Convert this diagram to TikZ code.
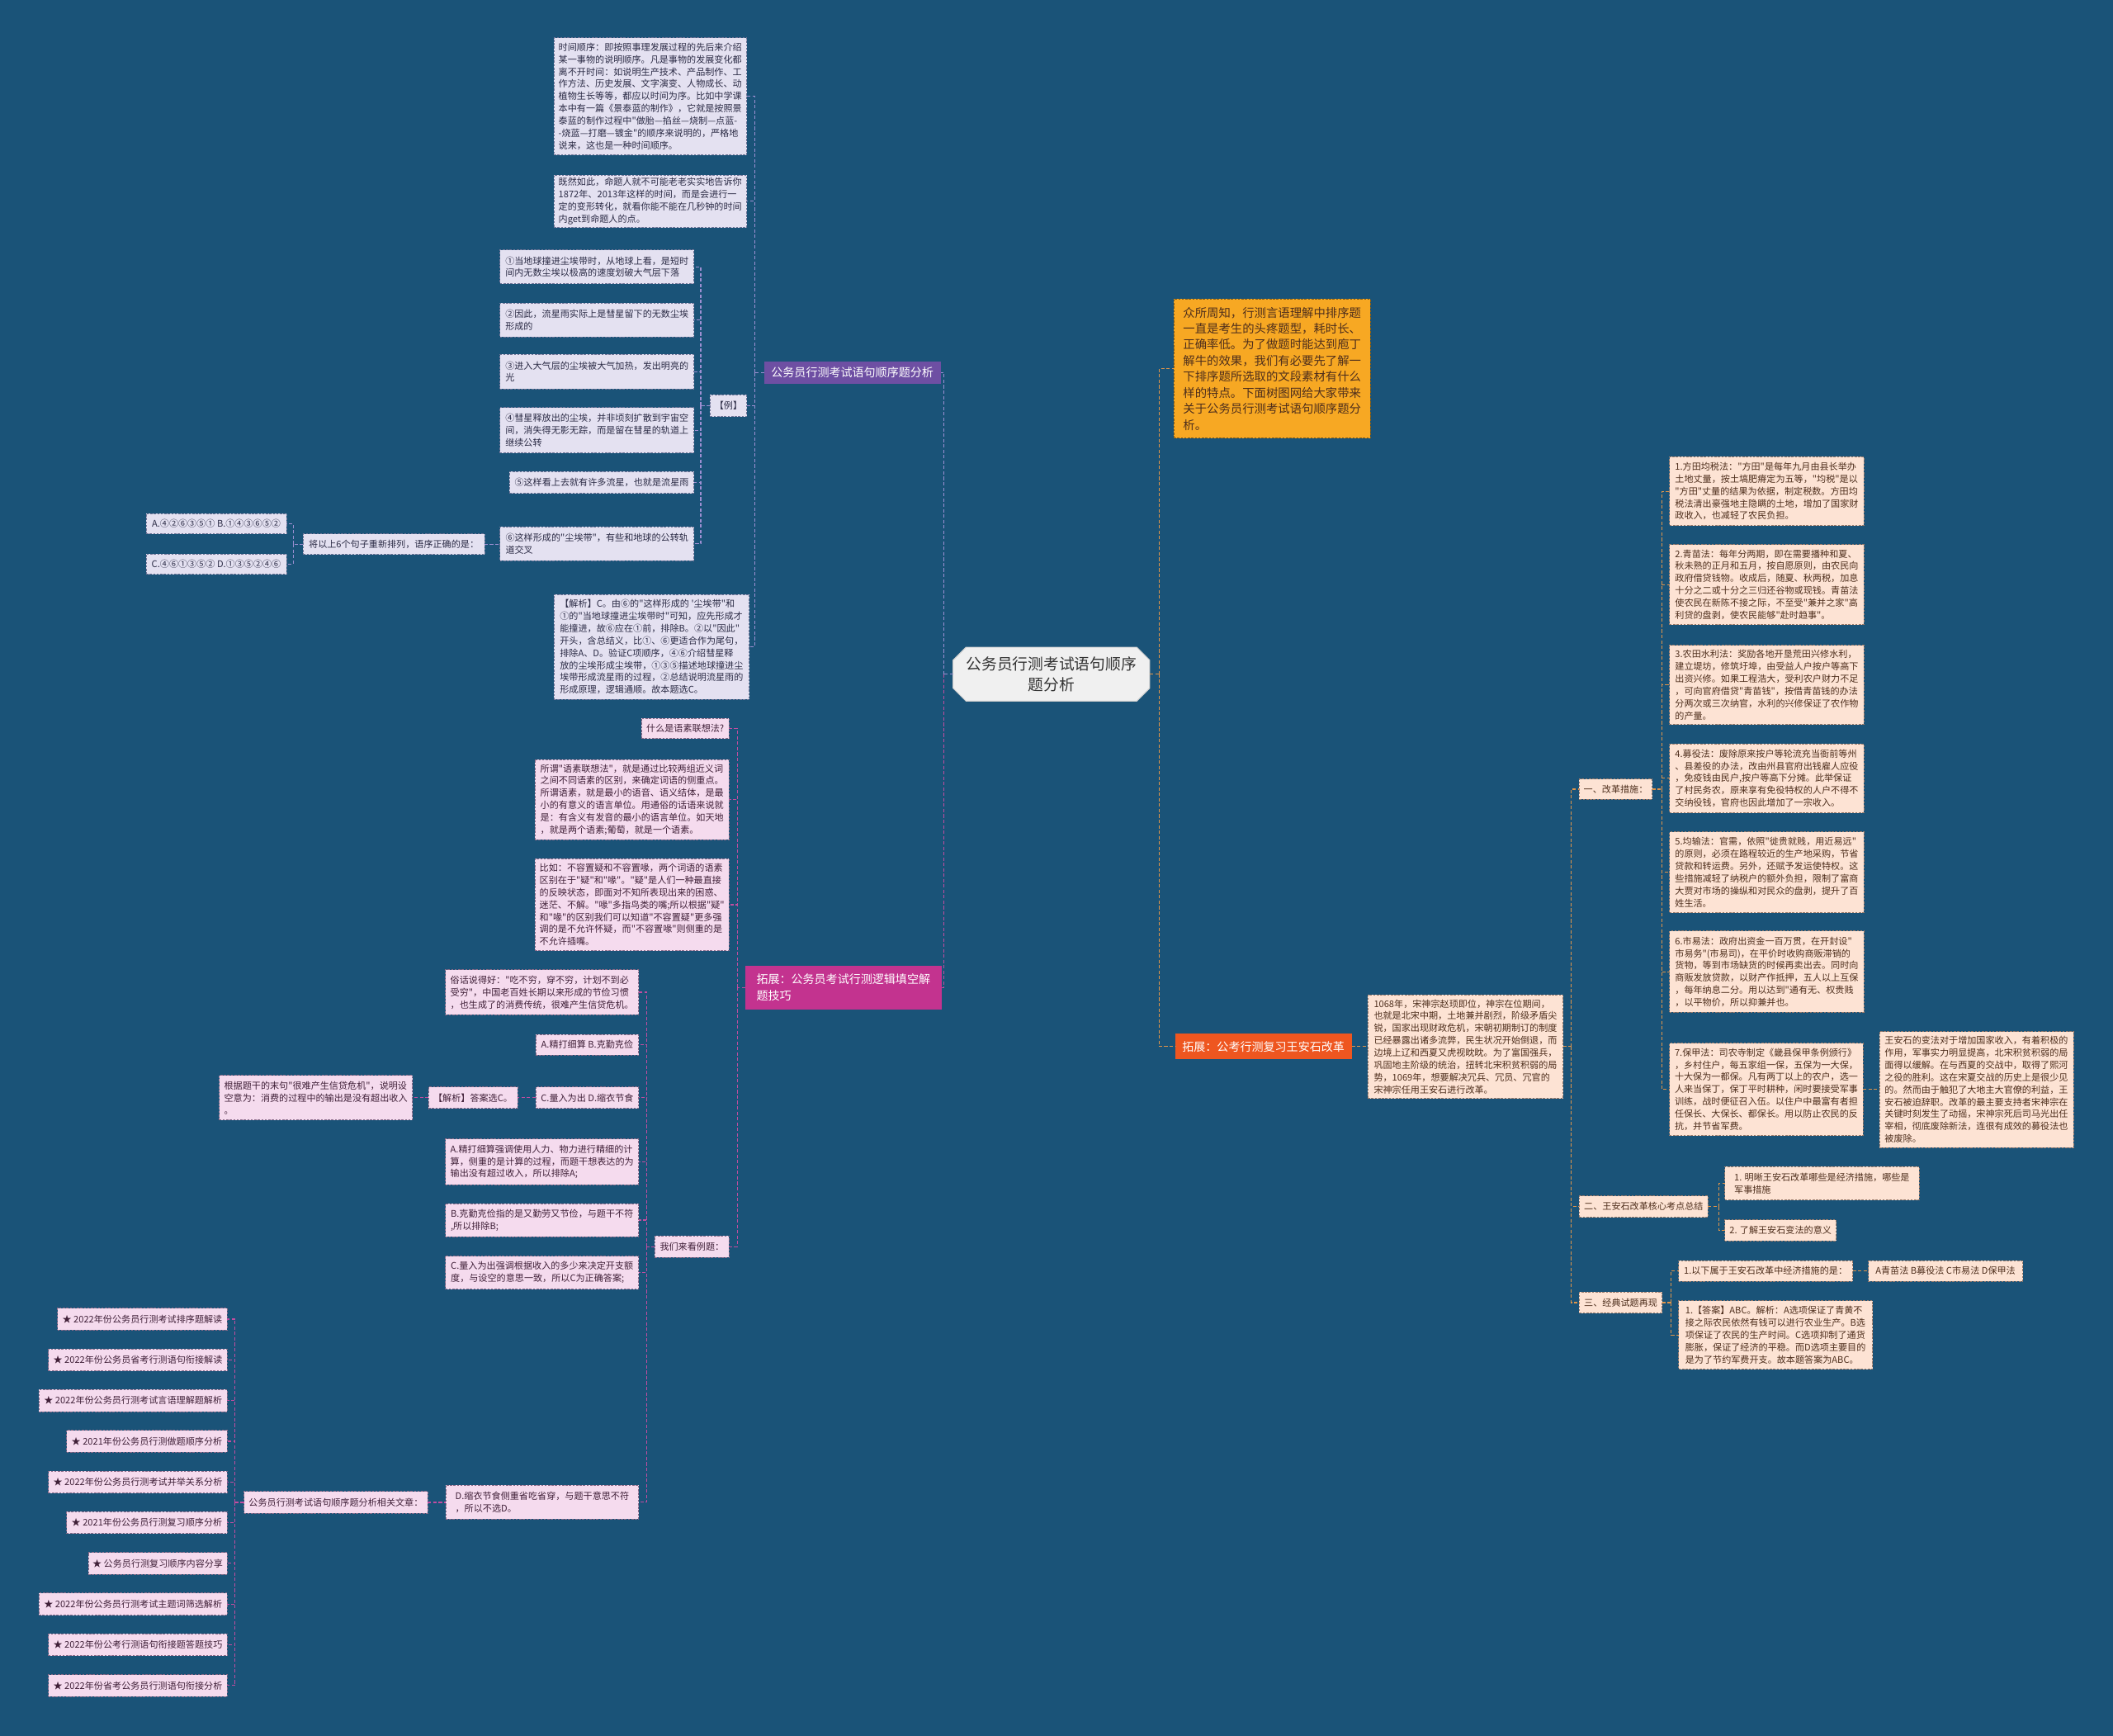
\documentclass[tikz,border=0pt]{standalone}
\usepackage{fontspec}
\setmainfont{Noto Sans CJK SC}[Ligatures=TeXOff]
\usetikzlibrary{shapes.misc}
\definecolor{bg}{HTML}{1A5378}
\definecolor{lavf}{HTML}{E4E1F1}
\definecolor{lavd}{HTML}{6F7497}
\definecolor{pinkf}{HTML}{F5DBEE}
\definecolor{pinkd}{HTML}{8A6A88}
\definecolor{peachf}{HTML}{FDE3D4}
\definecolor{peachd}{HTML}{9A7A6A}
\definecolor{purb}{HTML}{6E4FA3}
\definecolor{magb}{HTML}{C3338F}
\definecolor{orab}{HTML}{F7A823}
\definecolor{redb}{HTML}{EE5620}
\definecolor{plinec}{HTML}{9D8FD2}
\definecolor{mlinec}{HTML}{C24DA0}
\definecolor{olinec}{HTML}{E0954A}
\definecolor{txl}{HTML}{2B2B45}
\definecolor{txp}{HTML}{402038}
\definecolor{txo}{HTML}{4E2E1C}
\tikzset{
  every node/.style={inner sep=0pt, outer sep=0pt},
  sz/.style 2 args={minimum width=#1pt, minimum height=#2pt},
  box/.style={draw, dashed, dash pattern=on 1.6pt off 1pt, line width=0.5pt, align=left, anchor=north west, font=\fontsize{6.8}{9.1}\selectfont, inner xsep=3pt, inner ysep=2pt},
  lbox/.style={box, fill=lavf, draw=lavd, text=txl},
  pbox/.style={box, fill=pinkf, draw=pinkd, text=txp},
  obox/.style={box, fill=peachf, draw=peachd, text=txo},
  brn/.style={anchor=north west, align=left, font=\fontsize{8.6}{12}\selectfont, text=white, inner xsep=4pt},
  cn/.style={dashed, dash pattern=on 2.5pt off 1.5pt, line width=0.7pt},
}
\begin{document}
\begin{tikzpicture}[x=1pt,y=-1pt]
\useasboundingbox (0,0) rectangle (1568,1288);
\fill[bg] (0,0) rectangle (1568,1288);

% ---------- center ----------
\node[chamfered rectangle, chamfered rectangle xsep=6pt, fill=white!94!black, draw=white!80!black, line width=0.6pt, anchor=north west, sz={146}{40}, align=center, font=\fontsize{11.5}{15.5}\selectfont, text=black!80] (c) at (712,485) {公务员行测考试语句顺序\\题分析};

% ---------- purple branch ----------
\node[brn, fill=purb, sz={131}{17}] (pb) at (567,268) {公务员行测考试语句顺序题分析};
\node[lbox, sz={143}{87}] (t1) at (411,28) {时间顺序：即按照事理发展过程的先后来介绍\\某一事物的说明顺序。凡是事物的发展变化都\\离不开时间：如说明生产技术、产品制作、工\\作方法、历史发展、文字演变、人物成长、动\\植物生长等等，都应以时间为序。比如中学课\\本中有一篇《景泰蓝的制作》，它就是按照景\\泰蓝的制作过程中"做胎—掐丝—烧制—点蓝-\\-烧蓝—打磨—镀金"的顺序来说明的，严格地\\说来，这也是一种时间顺序。};
\node[lbox, sz={143}{38.5}] (t2) at (411,130) {既然如此，命题人就不可能老老实实地告诉你\\1872年、2013年这样的时间，而是会进行一\\定的变形转化，就看你能不能在几秒钟的时间\\内get到命题人的点。};
\node[lbox, sz={27}{16}] (li) at (527,293) {【例】};
\node[lbox, sz={144}{25}] (e1) at (371,185.5) {①当地球撞进尘埃带时，从地球上看，是短时\\间内无数尘埃以极高的速度划破大气层下落};
\node[lbox, sz={144}{25}] (e2) at (371,225) {②因此，流星雨实际上是彗星留下的无数尘埃\\形成的};
\node[lbox, sz={144}{25.5}] (e3) at (371,263) {③进入大气层的尘埃被大气加热，发出明亮的\\光};
\node[lbox, sz={144}{33.5}] (e4) at (371,302.5) {④彗星释放出的尘埃，并非顷刻扩散到宇宙空\\间，消失得无影无踪，而是留在彗星的轨道上\\继续公转};
\node[lbox, sz={137}{16}] (e5) at (378,350) {⑤这样看上去就有许多流星，也就是流星雨};
\node[lbox, sz={144}{25}] (e6) at (371,391) {⑥这样形成的"尘埃带"，有些和地球的公转轨\\道交叉};
\node[lbox, sz={134.5}{15.5}] (q6) at (225,396) {将以上6个句子重新排列，语序正确的是：};
\node[lbox, sz={104}{15}] (qa) at (108.5,381) {A.④②⑥③⑤① B.①④③⑥⑤②};
\node[lbox, sz={104}{15}] (qc) at (108.5,411) {C.④⑥①③⑤② D.①③⑤②④⑥};
\node[lbox, sz={145}{78}] (jx) at (411,441) {【解析】C。由⑥的"这样形成的 '尘埃带"和\\①的"当地球撞进尘埃带时"可知，应先形成才\\能撞进，故⑥应在①前，排除B。②以"因此"\\开头，含总结义，比①、⑥更适合作为尾句，\\排除A、D。验证C项顺序，④⑥介绍彗星释\\放的尘埃形成尘埃带，①③⑤描述地球撞进尘\\埃带形成流星雨的过程，②总结说明流星雨的\\形成原理，逻辑通顺。故本题选C。};

% ---------- magenta branch ----------
\node[brn, fill=magb, sz={145.7}{32.5}] (mg) at (553,716.5) {拓展：公务员考试行测逻辑填空解\\题技巧};
\node[pbox, sz={65}{15}] (ma) at (476,533) {什么是语素联想法?};
\node[pbox, sz={144}{59.5}] (mb) at (397,563.5) {所谓"语素联想法"，就是通过比较两组近义词\\之间不同语素的区别，来确定词语的侧重点。\\所谓语素，就是最小的语音、语义结体，是最\\小的有意义的语言单位。用通俗的话语来说就\\是：有含义有发音的最小的语言单位。如天地\\，就是两个语素;葡萄，就是一个语素。};
\node[pbox, sz={144}{68.5}] (mc) at (397,637) {比如：不容置疑和不容置喙，两个词语的语素\\区别在于"疑"和"喙"。"疑"是人们一种最直接\\的反映状态，即面对不知所表现出来的困惑、\\迷茫、不解。"喙"多指鸟类的嘴;所以根据"疑"\\和"喙"的区别我们可以知道"不容置疑"更多强\\调的是不允许怀疑，而"不容置喙"则侧重的是\\不允许插嘴。};
\node[pbox, sz={55}{16}] (md) at (486,917) {我们来看例题：};
\node[pbox, sz={143.5}{33.5}] (d1) at (330.5,719.5) {俗话说得好："吃不穷，穿不穷，计划不到必\\受穷"，中国老百姓长期以来形成的节俭习惯\\，也生成了的消费传统，很难产生信贷危机。};
\node[pbox, sz={76.5}{15.5}] (d2) at (397.5,767.5) {A.精打细算 B.克勤克俭};
\node[pbox, sz={76.5}{16}] (d3) at (397.5,806.5) {C.量入为出 D.缩衣节食};
\node[pbox, sz={66}{16}] (d3a) at (318,806.5) {【解析】答案选C。};
\node[pbox, sz={143.3}{33}] (d3b) at (162.7,798) {根据题干的末句"很难产生信贷危机"，说明设\\空意为：消费的过程中的输出是没有超出收入\\。};
\node[pbox, sz={143.5}{34}] (d4) at (330.5,845) {A.精打细算强调使用人力、物力进行精细的计\\算，侧重的是计算的过程，而题干想表达的为\\输出没有超过收入，所以排除A;};
\node[pbox, sz={143.5}{24.5}] (d5) at (330.5,893) {B.克勤克俭指的是又勤劳又节俭，与题干不符\\,所以排除B;};
\node[pbox, sz={143.5}{24.5}] (d6) at (330.5,932) {C.量入为出强调根据收入的多少来决定开支额\\度，与设空的意思一致，所以C为正确答案;};
\node[pbox, sz={143.3}{25}] (d7) at (330.7,1102) {D.缩衣节食侧重省吃省穿，与题干意思不符\\，所以不选D。};
\node[pbox, sz={136.5}{16}] (d7a) at (181,1106.7) {公务员行测考试语句顺序题分析相关文章：};
\node[pbox, anchor=east, sz={125.9}{16.3}] (s1) at (168.6,978.8) {★ 2022年份公务员行测考试排序题解读};
\node[pbox, anchor=east, sz={132.6}{16.3}] (s2) at (168.6,1009) {★ 2022年份公务员省考行测语句衔接解读};
\node[pbox, anchor=east, sz={139.7}{16.3}] (s3) at (168.6,1039.2) {★ 2022年份公务员行测考试言语理解题解析};
\node[pbox, anchor=east, sz={119.2}{16.3}] (s4) at (168.6,1069.4) {★ 2021年份公务员行测做题顺序分析};
\node[pbox, anchor=east, sz={132.6}{16.3}] (s5) at (168.6,1099.6) {★ 2022年份公务员行测考试并举关系分析};
\node[pbox, anchor=east, sz={119.2}{16.3}] (s6) at (168.6,1129.8) {★ 2021年份公务员行测复习顺序分析};
\node[pbox, anchor=east, sz={103.1}{16.3}] (s7) at (168.6,1160) {★ 公务员行测复习顺序内容分享};
\node[pbox, anchor=east, sz={139.7}{16.3}] (s8) at (168.6,1190.2) {★ 2022年份公务员行测考试主题词筛选解析};
\node[pbox, anchor=east, sz={132.6}{16.3}] (s9) at (168.6,1220.4) {★ 2022年份公考行测语句衔接题答题技巧};
\node[pbox, anchor=east, sz={132.6}{16.3}] (s10) at (168.6,1250.6) {★ 2022年份省考公务员行测语句衔接分析};

% ---------- right side ----------
\node[box, fill=orab, draw=black!45!orab, text=txo, sz={146}{103}, font=\fontsize{8.8}{11.9}\selectfont] (ob) at (871,222) {众所周知，行测言语理解中排序题\\一直是考生的头疼题型，耗时长、\\正确率低。为了做题时能达到庖丁\\解牛的效果，我们有必要先了解一\\下排序题所选取的文段素材有什么\\样的特点。下面树图网给大家带来\\关于公务员行测考试语句顺序题分\\析。};
\node[brn, fill=redb, sz={131}{19}] (rb) at (872,767) {拓展：公考行测复习王安石改革};
\node[obox, sz={145}{77}] (w0) at (1015,738) {1068年，宋神宗赵顼即位，神宗在位期间，\\也就是北宋中期，土地兼并剧烈，阶级矛盾尖\\锐，国家出现财政危机，宋朝初期制订的制度\\已经暴露出诸多流弊，民生状况开始倒退，而\\边境上辽和西夏又虎视眈眈。为了富国强兵，\\巩固地主阶级的统治，扭转北宋积贫积弱的局\\势，1069年，想要解决冗兵、冗员、冗官的\\宋神宗任用王安石进行改革。};
\node[obox, sz={54}{15}] (g1) at (1172,578) {一、改革措施：};
\node[obox, sz={95.4}{16}] (g2) at (1172,887.3) {二、王安石改革核心考点总结};
\node[obox, sz={61.4}{15.5}] (g3) at (1172,958.8) {三、经典试题再现};
\node[obox, sz={144}{51}] (r1) at (1239,339) {1.方田均税法："方田"是每年九月由县长举办\\土地丈量，按土塙肥瘠定为五等，"均税"是以\\"方田"丈量的结果为依据，制定税数。方田均\\税法清出豪强地主隐瞒的土地，增加了国家财\\政收入，也减轻了农民负担。};
\node[obox, sz={144}{59.4}] (r2) at (1239,404) {2.青苗法：每年分两期，即在需要播种和夏、\\秋未熟的正月和五月，按自愿原则，由农民向\\政府借贷钱物。收成后，随夏、秋两税，加息\\十分之二或十分之三归还谷物或现钱。青苗法\\使农民在新陈不接之际，不至受"兼并之家"高\\利贷的盘剥，使农民能够"赴时趋事"。};
\node[obox, sz={144}{59}] (r3) at (1239,478.7) {3.农田水利法：奖励各地开垦荒田兴修水利，\\建立堤坊，修筑圩埠，由受益人户按户等高下\\出资兴修。如果工程浩大，受利农户财力不足\\，可向官府借贷"青苗钱"，按借青苗钱的办法\\分两次或三次纳官，水利的兴修保证了农作物\\的产量。};
\node[obox, sz={144}{51}] (r4) at (1239,552) {4.募役法：废除原来按户等轮流充当衙前等州\\、县差役的办法，改由州县官府出钱雇人应役\\，免疫钱由民户,按户等高下分摊。此举保证\\了村民务农，原来享有免役特权的人户不得不\\交纳役钱，官府也因此增加了一宗收入。};
\node[obox, sz={144}{60}] (r5) at (1239,617.3) {5.均输法：官需，依照"徙贵就贱，用近易远"\\的原则，必须在路程较近的生产地采购，节省\\贷款和转运费。另外，还赋予发运使特权。这\\些措施减轻了纳税户的额外负担，限制了富商\\大贾对市场的操纵和对民众的盘剥，提升了百\\姓生活。};
\node[obox, sz={144}{60.4}] (r6) at (1239,690.8) {6.市易法：政府出资金一百万贯，在开封设"\\市易务"(市易司)，在平价时收购商贩滞销的\\货物，等到市场缺货的时候再卖出去。同时向\\商贩发放贷款，以财产作抵押，五人以上互保\\，每年纳息二分。用以达到"通有无、权贵贱\\，以平物价，所以抑兼并也。};
\node[obox, sz={143.5}{68.6}] (r7) at (1239,774) {7.保甲法：司农寺制定《畿县保甲条例颁行》\\，乡村住户，每五家组一保，五保为一大保，\\十大保为一都保。凡有两丁以上的农户，选一\\人来当保丁，保丁平时耕种，闲时要接受军事\\训练，战时便征召入伍。以住户中最富有者担\\任保长、大保长、都保长。用以防止农民的反\\抗，并节省军费。};
\node[obox, sz={144}{86}] (r7a) at (1394.6,765.5) {王安石的变法对于增加国家收入，有着积极的\\作用，军事实力明显提高，北宋积贫积弱的局\\面得以缓解。在与西夏的交战中，取得了熙河\\之役的胜利。这在宋夏交战的历史上是很少见\\的。然而由于触犯了大地主大官僚的利益，王\\安石被迫辞职。改革的最主要支持者宋神宗在\\关键时刻发生了动摇，宋神宗死后司马光出任\\宰相，彻底废除新法，连很有成效的募役法也\\被废除。};
\node[obox, sz={144}{25}] (h1) at (1280,865.5) {1. 明晰王安石改革哪些是经济措施，哪些是\\军事措施};
\node[obox, sz={82.5}{15.6}] (h2) at (1280,905) {2. 了解王安石变法的意义};
\node[obox, sz={129.2}{15.5}] (k1) at (1245.6,935.3) {1.以下属于王安石改革中经济措施的是：};
\node[obox, sz={114.6}{15.5}] (k1a) at (1386.4,935.3) {A青苗法 B募役法 C市易法 D保甲法};
\node[obox, sz={143.9}{51}] (k2) at (1245.6,965) {1.【答案】ABC。解析：A选项保证了青黄不\\接之际农民依然有钱可以进行农业生产。B选\\项保证了农民的生产时间。C选项抑制了通货\\膨胀，保证了经济的平稳。而D选项主要目的\\是为了节约军费开支。故本题答案为ABC。};

% ---------- connectors ----------
\draw[cn, plinec] (c.west) -- ++(-7,0) coordinate (cl);
\draw[cn, plinec] (cl) |- (pb.east);
\draw[cn, mlinec] (cl) |- (mg.east);
\draw[cn, olinec] (c.east) -- ++(7,0) coordinate (cr);
\draw[cn, olinec] (cr) |- (ob.west);
\draw[cn, olinec] (cr) |- (rb.west);

\draw[cn, plinec] (pb.west) -- ++(-7,0) coordinate (ps);
\foreach \n in {t1,t2,li,jx} \draw[cn, plinec] (ps) |- (\n.east);
\draw[cn, plinec] (li.west) -- ++(-7,0) coordinate (ls);
\foreach \n in {e1,e2,e3,e4,e5,e6} \draw[cn, plinec] (ls) |- (\n.east);
\draw[cn, plinec] (q6.east) -- (q6.east -| e6.west);
\draw[cn, plinec] (q6.west) -- ++(-7.5,0) coordinate (qs);
\foreach \n in {qa,qc} \draw[cn, plinec] (qs) |- (\n.east);

\draw[cn, mlinec] (mg.west) -- ++(-6,0) coordinate (ms);
\foreach \n in {ma,mb,mc,md} \draw[cn, mlinec] (ms) |- (\n.east);
\draw[cn, mlinec] (md.west) -- ++(-6,0) coordinate (ds);
\foreach \n in {d1,d2,d3,d4,d5,d6,d7} \draw[cn, mlinec] (ds) |- (\n.east);
\draw[cn, mlinec] (d3.west) -- (d3a.east);
\draw[cn, mlinec] (d3a.west) -- (d3b.east -| d3a.west) -- (d3b.east);
\draw[cn, mlinec] (d7a.east) -- (d7a.east -| d7.west);
\draw[cn, mlinec] (d7a.west) -- ++(-6.5,0) coordinate (ss);
\foreach \n in {s1,s2,s3,s4,s5,s6,s7,s8,s9,s10} \draw[cn, mlinec] (ss) |- (\n.east);

\draw[cn, olinec] (rb.east) -- (w0.west);
\draw[cn, olinec] (w0.east) -- ++(6,0) coordinate (ws);
\foreach \n in {g1,g2,g3} \draw[cn, olinec] (ws) |- (\n.west);
\draw[cn, olinec] (g1.east) -- ++(7,0) coordinate (gs1);
\foreach \n in {r1,r2,r3,r4,r5,r6,r7} \draw[cn, olinec] (gs1) |- (\n.west);
\draw[cn, olinec] (r7.east) -- (r7.east -| r7a.west);
\draw[cn, olinec] (g2.east) -- ++(8,0) coordinate (gs2);
\foreach \n in {h1,h2} \draw[cn, olinec] (gs2) |- (\n.west);
\draw[cn, olinec] (g3.east) -- ++(6.5,0) coordinate (gs3);
\foreach \n in {k1,k2} \draw[cn, olinec] (gs3) |- (\n.west);
\draw[cn, olinec] (k1.east) -- (k1a.west);
\end{tikzpicture}
\end{document}
